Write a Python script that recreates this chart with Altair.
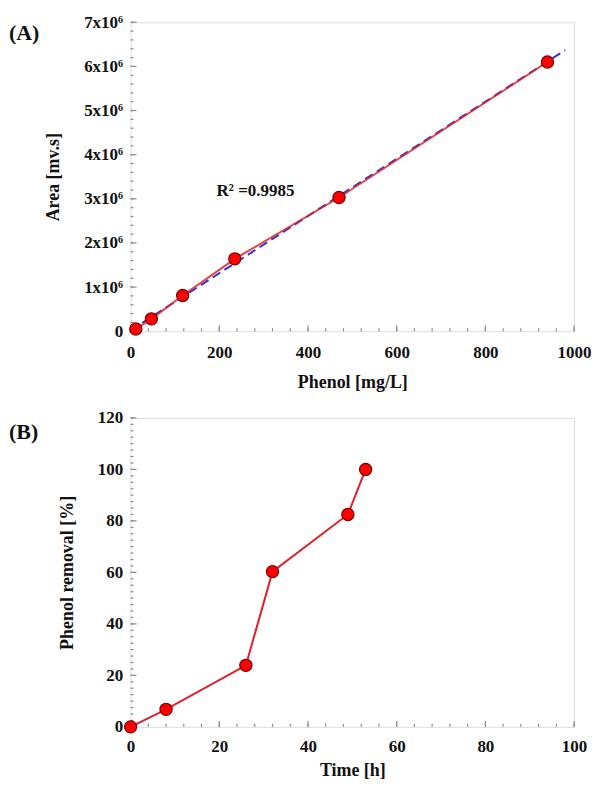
import altair as alt
import pandas as pd
import numpy as np

# ---- data ----
phenol_conc = [11.75, 47, 117.5, 235, 470, 940]          # mg/L
area = [0.05e6, 0.28e6, 0.81e6, 1.64e6, 3.03e6, 6.10e6]  # mv.s
time_h = [0, 8, 26, 32, 49, 53]                          # h
removal = [0, 6.8, 23.9, 60.3, 82.5, 100]                # %
r2_label = ["R² =0.9985"]
r2_pos_x = [194]
r2_pos_y = [3.17e6]
panel_labels = ["(A)", "(B)"]

FONT = "Liberation Serif"
W = 445
HA = 310
HB = 310
RED = "#ff0000"
LINE_RED = "#e0202a"
EDGE = "#7a0000"
BLUE = "#3535c8"
FRAME = "#8c8c8c"

dfA = pd.DataFrame({"x": phenol_conc, "y": area})
dfB = pd.DataFrame({"x": time_h, "y": removal})

xA = alt.Scale(domain=[0, 1000], nice=False, zero=False)
yA = alt.Scale(domain=[0, 7e6], nice=False, zero=False)
xB = alt.Scale(domain=[0, 100], nice=False, zero=False)
yB = alt.Scale(domain=[0, 120], nice=False, zero=False)


def xaxis(title, values, label_pad, title_pad):
    return alt.Axis(title=title, values=values, format="d", grid=False, domain=False,
                    ticks=False, labelPadding=label_pad, titlePadding=title_pad,
                    labelFont=FONT, labelFontSize=17, labelFontWeight="bold", labelColor="#111",
                    titleFont=FONT, titleFontSize=18, titleFontWeight="bold", titleColor="#111",
                    labelFlush=False, labelOverlap=False)


def yaxis(title, values, expr=None):
    kw = dict(title=title, values=values, grid=False, domain=False, ticks=False,
              labelPadding=8, titlePadding=21,
              labelFont=FONT, labelFontSize=17, labelFontWeight="bold", labelColor="#111",
              titleFont=FONT, titleFontSize=18, titleFontWeight="bold", titleColor="#111",
              labelFlush=False, labelOverlap=False)
    if expr:
        kw["labelExpr"] = expr
    else:
        kw["format"] = "d"
    return alt.Axis(**kw)


AXA_X = xaxis("Phenol [mg/L]", list(range(0, 1001, 200)), 13, 13)
AXA_Y = yaxis("Area [mv.s]", [i * 1e6 for i in range(8)],
              "datum.value == 0 ? '0' : format(datum.value/1e6, 'd') + 'x10⁶'")
AXB_X = xaxis("Time [h]", list(range(0, 101, 20)), 12, 7)
AXB_Y = yaxis("Phenol removal [%]", list(range(0, 121, 20)))


def inner_ticks(xscale, yscale, xax, yax, xmaj, xmin, ymaj, ymin, h):
    layers = []
    for vals, ln in ((xmaj, 6), (xmin, 3)):
        d = pd.DataFrame({"x": vals})
        layers.append(alt.Chart(d).mark_rule(color=FRAME, strokeWidth=1.2).encode(
            x=alt.X("x:Q", scale=xscale, axis=xax),
            y=alt.value(h), y2=alt.value(h - ln)))
    for vals, ln in ((ymaj, 6), (ymin, 3)):
        d = pd.DataFrame({"y": vals})
        layers.append(alt.Chart(d).mark_rule(color=FRAME, strokeWidth=1.2).encode(
            y=alt.Y("y:Q", scale=yscale, axis=yax),
            x=alt.value(0), x2=alt.value(ln)))
    return layers


def enc(xscale, yscale, xax, yax):
    return dict(x=alt.X("x:Q", scale=xscale, axis=xax), y=alt.Y("y:Q", scale=yscale, axis=yax))


# ---------- Panel A ----------
ticksA = inner_ticks(xA, yA, AXA_X, AXA_Y,
                     np.arange(0, 1001, 200), np.arange(0, 1001, 40),
                     np.arange(0, 7e6 + 1, 1e6), np.arange(0, 7e6 + 1, 2e5), HA)

fitA = alt.Chart(dfA).transform_regression("x", "y", extent=[0, 980]).mark_line(
    color=BLUE, strokeDash=[9, 5], strokeWidth=2).encode(**enc(xA, yA, AXA_X, AXA_Y))

lineA = alt.Chart(dfA).mark_line(color=LINE_RED, strokeWidth=2, opacity=0.85).encode(
    **enc(xA, yA, AXA_X, AXA_Y))

ptsA = alt.Chart(dfA).mark_point(filled=True, size=150, color=RED, stroke=EDGE,
                                 strokeWidth=1.2, opacity=1).encode(**enc(xA, yA, AXA_X, AXA_Y))

r2 = alt.Chart(pd.DataFrame({"t": r2_label, "x": r2_pos_x, "y": r2_pos_y})).mark_text(
    align="left", baseline="middle", font=FONT, fontSize=17, fontWeight="bold", color="#111").encode(
    text="t:N", **enc(xA, yA, AXA_X, AXA_Y))

labA = alt.Chart(pd.DataFrame({"t": [panel_labels[0]]})).mark_text(
    align="left", baseline="middle", font=FONT, fontSize=22, fontWeight="bold", color="#111").encode(
    x=alt.value(-122), y=alt.value(11), text="t:N")

panelA = alt.layer(*ticksA, fitA, lineA, ptsA, r2, labA).properties(width=W, height=HA)

# ---------- Panel B ----------
ticksB = inner_ticks(xB, yB, AXB_X, AXB_Y,
                     np.arange(0, 101, 20), np.arange(0, 101, 4),
                     np.arange(0, 121, 20), np.arange(0, 121, 2.5), HB)

lineB = alt.Chart(dfB).mark_line(color=LINE_RED, strokeWidth=2).encode(**enc(xB, yB, AXB_X, AXB_Y))

ptsB = alt.Chart(dfB).mark_point(filled=True, size=150, color=RED, stroke=EDGE,
                                 strokeWidth=1.2, opacity=1).encode(**enc(xB, yB, AXB_X, AXB_Y))

labB = alt.Chart(pd.DataFrame({"t": [panel_labels[1]]})).mark_text(
    align="left", baseline="middle", font=FONT, fontSize=22, fontWeight="bold", color="#111").encode(
    x=alt.value(-122), y=alt.value(14), text="t:N")

panelB = alt.layer(*ticksB, lineB, ptsB, labB).properties(width=W, height=HB)

chart = alt.vconcat(panelA, panelB, spacing=16).properties(
    padding={"left": 0, "top": 3, "right": 0, "bottom": 0}
).configure_view(stroke=FRAME, strokeWidth=2).configure(background="white")

chart.save("out.html", embed_options={"renderer": "svg", "actions": False})
